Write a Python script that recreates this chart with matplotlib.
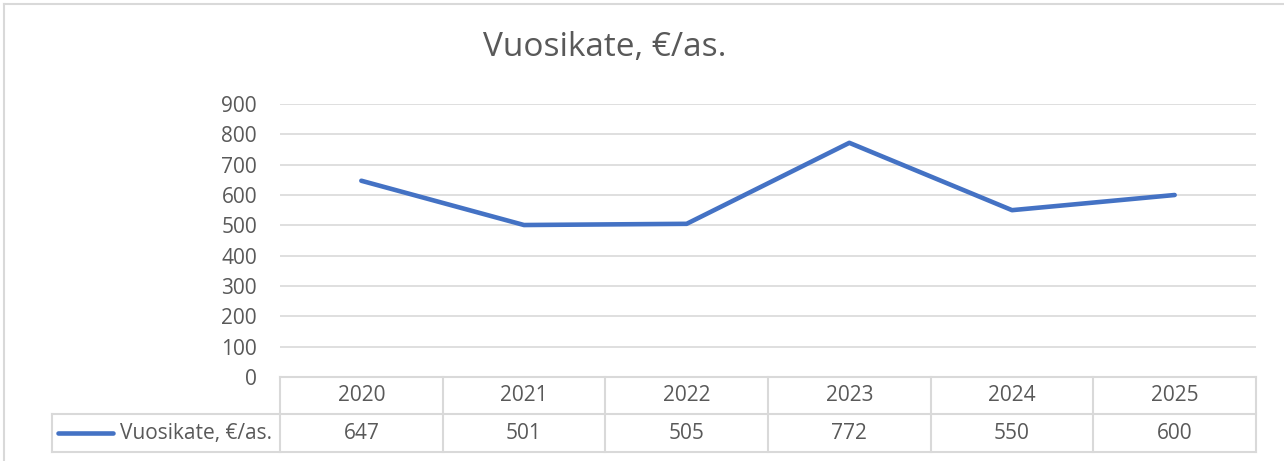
import matplotlib.pyplot as plt
from matplotlib.lines import Line2D
from matplotlib.transforms import blended_transform_factory

plt.rcParams['font.family'] = ['Open Sans', 'DejaVu Sans']

years = ['2020', '2021', '2022', '2023', '2024', '2025']
values = [647, 501, 505, 772, 550, 600]
series_name = 'Vuosikate, €/as.'
yticks = [0, 100, 200, 300, 400, 500, 600, 700, 800, 900]

W, H = 1284, 461
line_color = '#4472C4'
grid_color = '#d9d9d9'
text_color = '#595959'

fig = plt.figure(figsize=(W / 100, H / 100), dpi=100)

# outer chart border
fig.add_artist(Line2D([4 / W, 4 / W], [0, 1 - 4 / H], color=grid_color, lw=1.5))
fig.add_artist(Line2D([4 / W, 1], [1 - 4 / H, 1 - 4 / H], color=grid_color, lw=1.5))

ax = fig.add_axes([280 / W, 84 / H, 976 / W, 273 / H])
x = list(range(len(years)))
ax.plot(x, values, color=line_color, lw=3.3, solid_capstyle='round', zorder=3)
ax.set_xlim(-0.5, len(years) - 0.5)
ax.set_ylim(0, 900)
ax.set_yticks(yticks)
ax.set_yticklabels([str(v) for v in yticks], fontsize=15, color=text_color)
ax.set_xticks([])
ax.tick_params(axis='y', length=0, pad=16.5)
ax.grid(axis='y', color=grid_color, lw=1.2)
ax.set_axisbelow(True)
for s in ax.spines.values():
    s.set_visible(False)

# data table under the axis
tr = blended_transform_factory(ax.transData, ax.transAxes)
r0, r1, r2 = 0.0, -37 / 273, -75 / 273
left = -0.5 - 228 / 976 * 6
n = len(years)
kw = dict(color=grid_color, lw=1.5, transform=tr, clip_on=False)
ax.add_line(Line2D([-0.5, n - 0.5], [r0, r0], **kw))
ax.add_line(Line2D([left, n - 0.5], [r1, r1], **kw))
ax.add_line(Line2D([left, n - 0.5], [r2, r2], **kw))
ax.add_line(Line2D([left, left], [r1, r2], **kw))
for i in range(n + 1):
    ax.add_line(Line2D([i - 0.5, i - 0.5], [r0, r2], **kw))
for i, (yr, v) in enumerate(zip(years, values)):
    ax.text(i, (r0 + r1) / 2, yr, transform=tr, ha='center', va='center',
            fontsize=15, color=text_color)
    ax.text(i, (r1 + r2) / 2, str(v), transform=tr, ha='center', va='center',
            fontsize=15, color=text_color)
ym = (r1 + r2) / 2
lx0 = left + 6 / 976 * 6
lx1 = left + 61 / 976 * 6
ax.add_line(Line2D([lx0, lx1], [ym, ym], color=line_color, lw=3.3,
                   solid_capstyle='round', transform=tr, clip_on=False))
ax.text(-0.5 - 8 / 976 * 6, ym, series_name, transform=tr, ha='right', va='center',
        fontsize=15, color=text_color)

fig.text(605 / W, 1 - 56 / H, series_name, ha='center', va='baseline',
         fontsize=24, color=text_color)

fig.savefig('out.png', dpi=100)
